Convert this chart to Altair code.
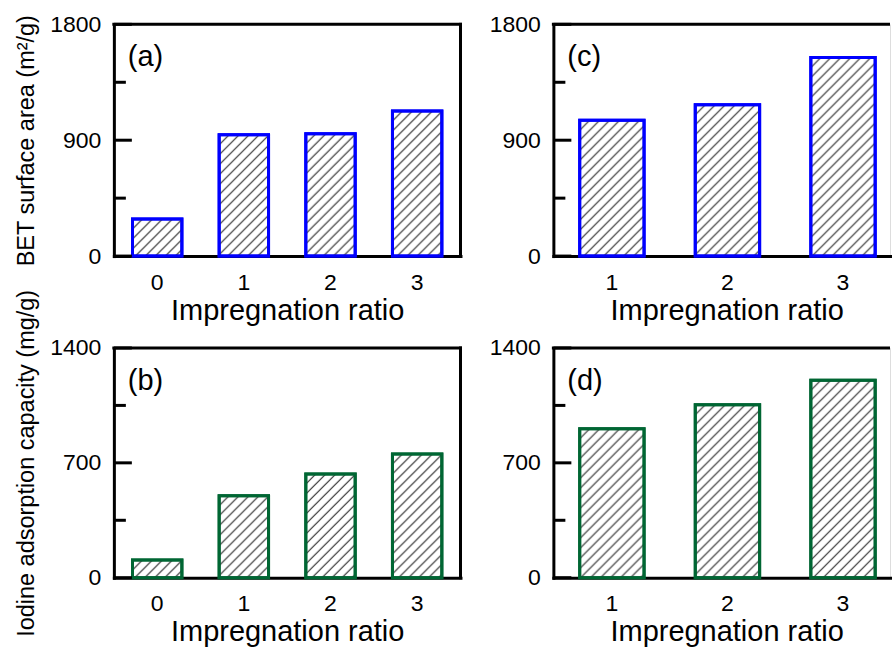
import urllib.parse
import altair as alt
import pandas as pd

# ---- data ----
ratios_left = ["0", "1", "2", "3"]
ratios_right = ["1", "2", "3"]
bet_a = [288, 942, 950, 1127]          # (a) BET surface area, m2/g
bet_c = [1055, 1175, 1542]             # (c) BET surface area, m2/g
iodine_b = [108, 500, 632, 754]        # (b) iodine adsorption, mg/g
iodine_d = [908, 1054, 1203]           # (d) iodine adsorption, mg/g
bet_major = [0, 900, 1800]
bet_minor = [450, 1350]
iod_major = [0, 700, 1400]
iod_minor = [350, 1050]

FONT = "Liberation Sans"
BLUE = "#0000ff"
GREEN = "#006633"
LABEL_SIZE = 23

# hatch texture (diagonal "/" lines) used to fill the bars
_svg = ("<svg xmlns='http://www.w3.org/2000/svg' width='100%' height='100%'>"
        "<defs><pattern id='h' patternUnits='userSpaceOnUse' width='10' height='10'>"
        "<path d='M-1,1 L1,-1 M0,10 L10,0 M9,11 L11,9' stroke='#2a2a2a' stroke-width='1.15'/>"
        "</pattern></defs><rect width='100%' height='100%' fill='url(#h)'/></svg>")
HATCH = "data:image/svg+xml;charset=utf-8," + urllib.parse.quote(_svg, safe="")


def panel(cats, vals, color, ymax, major, minor, ytitle, label, width, height,
          xscale, title_x, right_border):
    data = pd.DataFrame({"ratio": cats, "value": vals})
    yscale = alt.Scale(domain=[0, ymax], nice=False, zero=True)
    yaxis_kw = dict(values=major, format="d", labelFontSize=LABEL_SIZE,
                    labelFont=FONT, labelPadding=13,
                    ticks=False, grid=False, labelFlush=False,
                    domainWidth=3, domainColor="black", domainCap="square")
    if ytitle:
        yaxis = alt.Axis(title=ytitle, titleFontSize=23.5, titleFontWeight="normal",
                         titleX=-80, titleBaseline="alphabetic", **yaxis_kw)
    else:
        yaxis = alt.Axis(title=None, **yaxis_kw)
    xaxis = alt.Axis(title="Impregnation ratio", labelAngle=0, ticks=False,
                     labelPadding=33, labelBaseline="alphabetic",
                     labelFontSize=LABEL_SIZE, labelFont=FONT,
                     titleFontSize=29, titleFontWeight="normal",
                     titleBaseline="alphabetic", titleY=63, titleX=title_x,
                     domainWidth=3, domainColor="black", domainCap="square")
    x = alt.X("ratio:N", sort=cats, scale=xscale, axis=xaxis)
    y = alt.Y("value:Q", scale=yscale, axis=yaxis)

    base = alt.Chart(data)
    bars = base.mark_bar(fillOpacity=0, stroke=color, strokeWidth=3).encode(x=x, y=y)
    hatch = base.mark_image(aspect=False).encode(
        x=x, y=y, y2=alt.datum(0), url=alt.value(HATCH))

    # inward ticks on the left axis (same y axis definition so it merges)
    tmaj = alt.Chart(pd.DataFrame({"value": major})).mark_rule(
        stroke="black", strokeWidth=3).encode(
        y=y, x=alt.value(0), x2=alt.value(18))
    tmin = alt.Chart(pd.DataFrame({"value": minor})).mark_rule(
        stroke="black", strokeWidth=3).encode(
        y=y, x=alt.value(0), x2=alt.value(12))

    one = pd.DataFrame({"label": [label]})
    top = alt.Chart(one).mark_rule(stroke="black", strokeWidth=3).encode(
        x=alt.value(-1.5), x2=alt.value(width if not right_border else width + 1.5),
        y=alt.value(0))
    txt = alt.Chart(one).mark_text(font=FONT, fontSize=29, align="left",
                                   baseline="alphabetic", color="black").encode(
        text="label:N", x=alt.value(14), y=alt.value(42))
    layers = [bars, hatch, bars, tmaj, tmin, top]
    if right_border:
        layers.append(alt.Chart(one).mark_rule(stroke="black", strokeWidth=3).encode(
            x=alt.value(width), y=alt.value(-1.5), y2=alt.value(height + 1.5)))
    layers.append(txt)
    return alt.layer(*layers).properties(width=width, height=height)


WL, WR = 347, 337
xs_left = alt.Scale(paddingInner=0.43, paddingOuter=0.215)
xs_right = alt.Scale(paddingInner=0.443, paddingOuter=0.178, align=0.64)

a = panel(ratios_left, bet_a, BLUE, 1800, bet_major, bet_minor,
          "BET surface area (m²/g)", "(a)", WL, 232, xs_left, WL / 2, True)
c = panel(ratios_right, bet_c, BLUE, 1800, bet_major, bet_minor,
          None, "(c)", WR, 232, xs_right, 173.5, False)
b = panel(ratios_left, iodine_b, GREEN, 1400, iod_major, iod_minor,
          "Iodine adsorption capacity (mg/g)", "(b)", WL, 230, xs_left, WL / 2, True)
d = panel(ratios_right, iodine_d, GREEN, 1400, iod_major, iod_minor,
          None, "(d)", WR, 230, xs_right, 173.5, False)

chart = alt.concat(a, c, b, d, columns=2, bounds="flush",
                   spacing={"row": 92, "column": 93}).properties(
    padding={"left": 14, "top": 12, "right": 0, "bottom": 0}
).configure_view(stroke=None).configure_axis(
    labelFont=FONT, titleFont=FONT, labelColor="black", titleColor="black",
    labelFontSize=LABEL_SIZE
).configure(background="white")

chart.save("out.html", embed_options={"renderer": "svg", "actions": False})
